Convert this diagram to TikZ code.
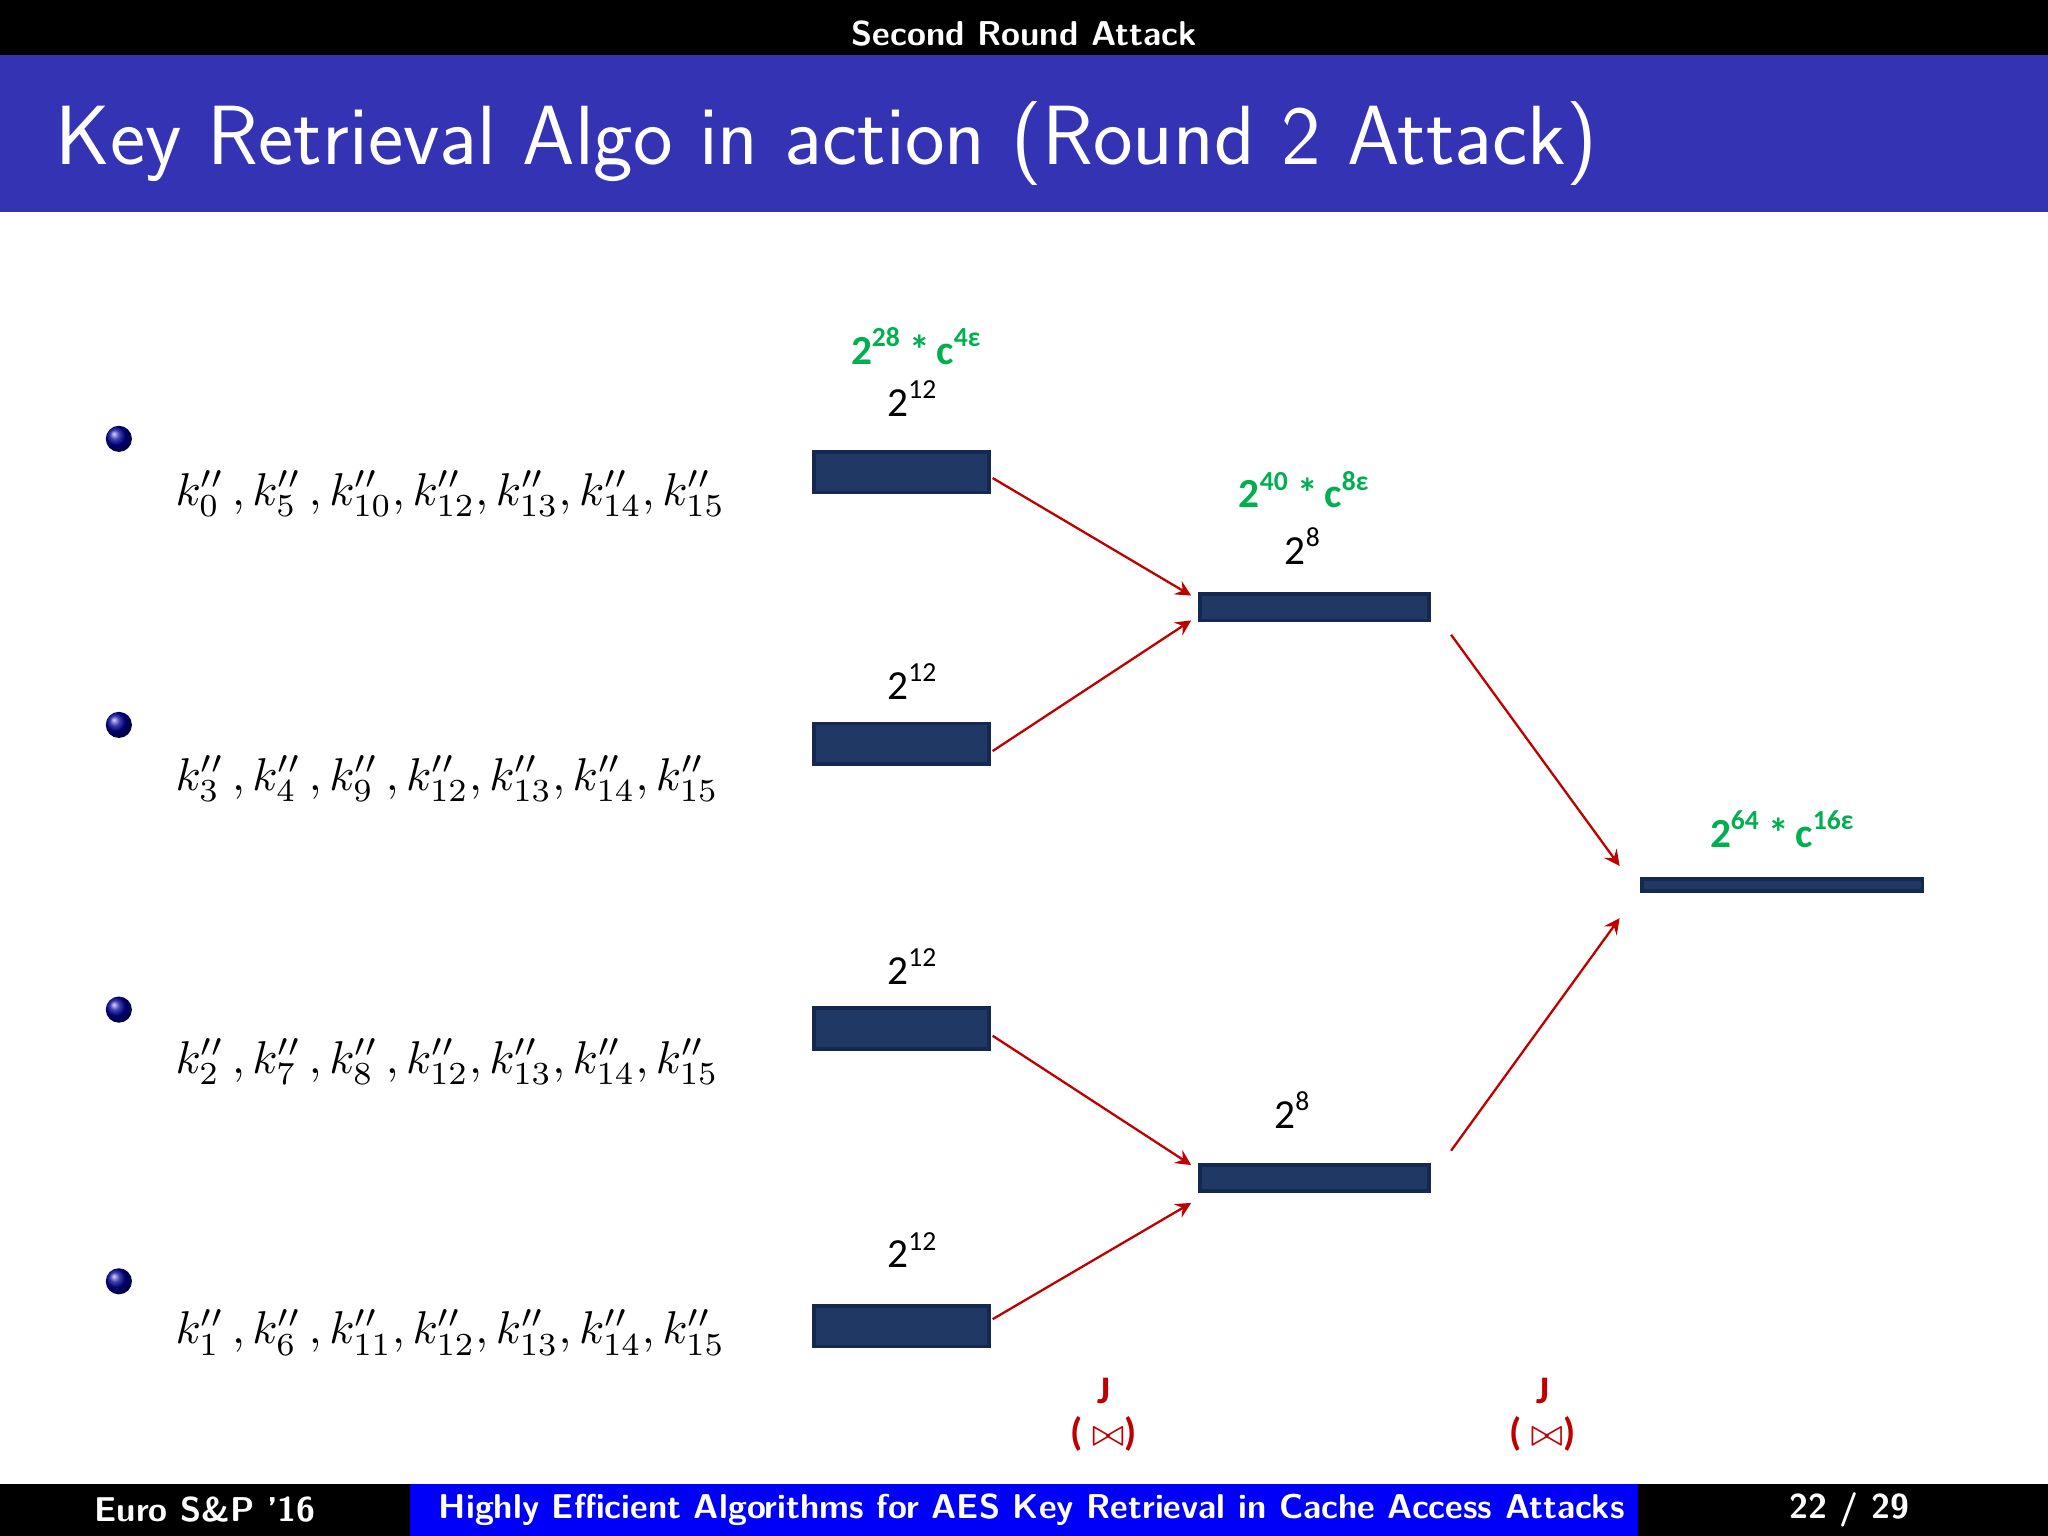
\documentclass[tikz,border=0pt]{standalone}
\usepackage{fontspec}
\newfontfamily\carl{Carlito}
\usetikzlibrary{shadings}
\definecolor{hdrblue}{RGB}{51,51,179}
\definecolor{footblue}{RGB}{0,0,250}
\definecolor{boxfill}{RGB}{31,56,100}
\definecolor{boxdraw}{RGB}{20,40,80}
\definecolor{grn}{RGB}{0,176,80}
\definecolor{arr}{RGB}{192,0,0}
\tikzset{
 x=0.01cm,y=-0.01cm,
 blk/.style={fill=boxfill,draw=boxdraw,line width=0.8pt},
 lbl/.style={font=\carl\fontsize{9}{11}\selectfont},
 glbl/.style={font=\carl\bfseries\fontsize{9}{11}\selectfont,text=grn},
 conn/.style={draw=arr,line width=0.5pt,->,>=stealth},
 jlbl/.style={font=\carl\bfseries\fontsize{8.5}{10}\selectfont,text=arr},
 klist/.style={anchor=west,font=\fontsize{9.6}{11}\selectfont},
 ball/.style={circle,minimum size=0.2cm,inner sep=0pt,ball color=blue!60!black},
 foot/.style={text=white,font=\sffamily\bfseries\fontsize{7.5}{9}\selectfont}
}
\begin{document}
\begin{tikzpicture}
\useasboundingbox (0,0) rectangle (1568,1176);
\fill[black] (0,0) rectangle (1568,42);
\fill[hdrblue] (0,42) rectangle (1568,162);
\node[foot] (hdr) at (784,26) {Second Round Attack};
\node[anchor=west,text=white,font=\sffamily\fontsize{18.3}{22}\selectfont] (title) at (30,110) {Key Retrieval Algo in action (Round 2 Attack)};
\fill[black] (0,1136) rectangle (314,1176);
\fill[footblue] (314,1136) rectangle (1254,1176);
\fill[black] (1254,1136) rectangle (1568,1176);
\node[foot] (f1) at (157,1156) {Euro S\&P '16};
\node[foot] (f2) at (790,1156) {Highly Efficient Algorithms for AES Key Retrieval in Cache Access Attacks};
\node[foot] (f3) at (1416,1156) {22 / 29};
\foreach \i/\y in {1/336,2/555,3/773,4/981} \node[ball] (b\i) at (91,\y) {};
\newcommand{\kk}[1]{k_{#1}^{\prime\prime}}
\node[klist] (k1) at (122,378) {$\kk0\,, \kk5\,, \kk{10}, \kk{12}, \kk{13}, \kk{14}, \kk{15}$};
\node[klist] (k2) at (122,596) {$\kk3\,, \kk4\,, \kk9\,, \kk{12}, \kk{13}, \kk{14}, \kk{15}$};
\node[klist] (k3) at (122,813) {$\kk2\,, \kk7\,, \kk8\,, \kk{12}, \kk{13}, \kk{14}, \kk{15}$};
\node[klist] (k4) at (122,1020) {$\kk1\,, \kk6\,, \kk{11}, \kk{12}, \kk{13}, \kk{14}, \kk{15}$};
\path[blk] (623,346) rectangle (757,377);
\path[blk] (623,554) rectangle (757,585);
\path[blk] (623,772) rectangle (757,803);
\path[blk] (623,1000) rectangle (757,1031);
\path[blk] (919,455) rectangle (1094,475);
\path[blk] (919,892) rectangle (1094,912);
\path[blk] (1257,673) rectangle (1472,682);
\coordinate (a1s) at (760,366); \coordinate (a1e) at (912,456);
\coordinate (a2s) at (760,575); \coordinate (a2e) at (912,475);
\coordinate (a3s) at (760,793); \coordinate (a3e) at (912,892);
\coordinate (a4s) at (760,1010); \coordinate (a4e) at (912,921);
\coordinate (a5s) at (1111,486); \coordinate (a5e) at (1240,663);
\coordinate (a6s) at (1111,881); \coordinate (a6e) at (1240,703);
\foreach \i in {1,...,6} \draw[conn] (a\i s) -- (a\i e);
\foreach \i/\y in {1/305,2/522,3/740,4/957} \node[lbl] (n\i) at (699,\y) {2\textsuperscript{12}};
\node[lbl] (m1) at (998,418) {2\textsuperscript{8}};
\node[lbl] (m2) at (990,850) {2\textsuperscript{8}};
\node[glbl] (g1) at (702,265) {2\textsuperscript{28}\,*\,c\textsuperscript{4ε}};
\node[glbl] (g2) at (999,375) {2\textsuperscript{40}\,*\,c\textsuperscript{8ε}};
\node[glbl] (g3) at (1365,635) {2\textsuperscript{64}\,*\,c\textsuperscript{16ε}};
\node[jlbl] (j1) at (845,1065) {J};
\node[jlbl] (j1b) at (845,1098) {( $\bowtie$)};
\node[jlbl] (j2) at (1181,1065) {J};
\node[jlbl] (j2b) at (1181,1098) {( $\bowtie$)};
\end{tikzpicture}
\end{document}
